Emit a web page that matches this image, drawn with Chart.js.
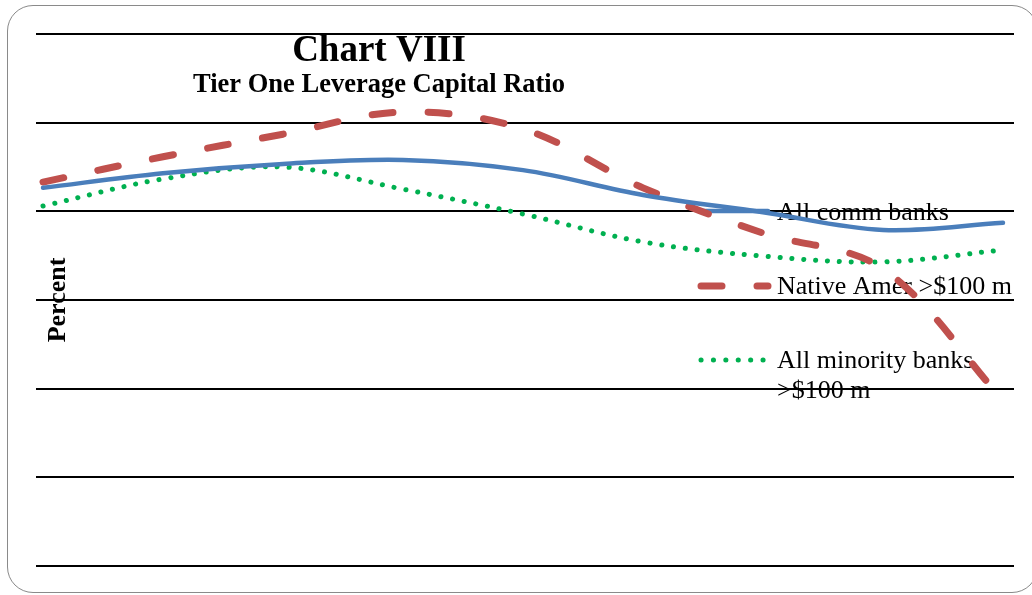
<!DOCTYPE html>
<html>
<head>
<meta charset="utf-8">
<script src="https://cdn.jsdelivr.net/npm/chart.js@4/dist/chart.umd.min.js"></script>
<style>
  html, body { margin: 0; padding: 0; background: #fff; }
  #wrap { position: relative; width: 1032px; height: 595px; overflow: hidden; }
  #frame {
    position: absolute; left: 7px; top: 5px; width: 1031px; height: 588px;
    border: 1.5px solid #8a8a8a; border-radius: 26px; box-sizing: border-box;
  }
  canvas { position: absolute; left: 0; top: 0; }
</style>
</head>
<body>
<div id="wrap">
  <div id="frame"></div>
  <canvas id="c" width="1032" height="595"></canvas>
</div>
<script>
// Reporting periods (evenly spaced along the horizontal axis)
const periods = [0, 1, 2, 3, 4, 5, 6, 7, 8];

// Tier one leverage capital ratio, percent
const allCommBanks    = [8.53, 8.86, 9.07, 9.16, 8.93, 8.37, 7.98, 7.58, 7.74];
const nativeAmer100m  = [8.66, 9.23, 9.74, 10.24, 9.86, 8.53, 7.51, 6.70, 3.74];
const allMinority100m = [8.12, 8.73, 9.00, 8.50, 7.94, 7.31, 6.99, 6.86, 7.13];

// Value axis grid
const yMin = 0, yMax = 12, yStep = 2;

const seriesNames = ['All comm banks', 'Native Amer >$100 m', ['All minority banks', '>$100 m']];
const chartTitle = 'Chart VIII';
const chartSubtitle = 'Tier One Leverage Capital Ratio';
const yTitle = 'Percent';

const BLUE = '#4a7ebb', RED = '#c0504d', GREEN = '#00b050';
const SERIF = '"Liberation Serif", "Times New Roman", serif';

const toPoints = vals => periods.map((p, i) => ({ x: p, y: vals[i] }));

// Headings, axis title and the key on the right
const annotations = {
  id: 'annotations',
  beforeDatasetsDraw(chart) {
    const ctx = chart.ctx;
    ctx.save();
    ctx.fillStyle = '#000';
    ctx.textAlign = 'center';
    ctx.textBaseline = 'alphabetic';
    ctx.font = 'bold 37px ' + SERIF;
    ctx.fillText(chartTitle, 379, 61);
    ctx.font = 'bold 26.5px ' + SERIF;
    ctx.fillText(chartSubtitle, 379, 92);

    ctx.save();
    ctx.translate(65, 300);
    ctx.rotate(-Math.PI / 2);
    ctx.font = 'bold 26px ' + SERIF;
    ctx.fillText(yTitle, 0, 0);
    ctx.restore();

    // key samples
    const keys = [
      { color: BLUE, width: 4.5, dash: [], y: 211 },
      { color: RED, width: 7, dash: [21, 35], y: 286 },
      { color: GREEN, width: 5, dash: [0.1, 12.3], y: 360 }
    ];
    ctx.lineCap = 'round';
    keys.forEach(k => {
      ctx.beginPath();
      ctx.strokeStyle = k.color;
      ctx.lineWidth = k.width;
      ctx.setLineDash(k.dash);
      ctx.moveTo(701, k.y);
      ctx.lineTo(768, k.y);
      ctx.stroke();
    });
    ctx.setLineDash([]);

    ctx.textAlign = 'left';
    ctx.font = '26px ' + SERIF;
    ctx.fillText(seriesNames[0], 777, 220);
    ctx.fillText(seriesNames[1], 777, 294);
    ctx.fillText(seriesNames[2][0], 777, 368);
    ctx.fillText(seriesNames[2][1], 777, 398);
    ctx.restore();
  }
};

new Chart(document.getElementById('c'), {
  type: 'line',
  data: {
    datasets: [
      {
        label: 'All comm banks',
        data: toPoints(allCommBanks),
        borderColor: BLUE, borderWidth: 4.5,
        borderCapStyle: 'round', borderJoinStyle: 'round',
        pointRadius: 0, tension: 0.35, fill: false
      },
      {
        label: 'Native Amer >$100 m',
        data: toPoints(nativeAmer100m),
        borderColor: RED, borderWidth: 7,
        borderDash: [21, 35], borderCapStyle: 'round', borderJoinStyle: 'round',
        pointRadius: 0, tension: 0.35, fill: false
      },
      {
        label: 'All minority banks >$100 m',
        data: toPoints(allMinority100m),
        borderColor: GREEN, borderWidth: 5,
        borderDash: [0.1, 11.8], borderCapStyle: 'round', borderJoinStyle: 'round',
        pointRadius: 0, tension: 0.35, fill: false
      }
    ]
  },
  options: {
    responsive: false,
    animation: false,
    events: [],
    layout: { padding: { left: 36, top: 34, right: 18, bottom: 29 } },
    plugins: {
      legend: { display: false },
      title: { display: false },
      tooltip: { enabled: false }
    },
    scales: {
      x: {
        type: 'linear',
        min: -0.0583, max: 8.0917,
        display: false
      },
      y: {
        min: yMin, max: yMax,
        ticks: { display: false, stepSize: yStep },
        grid: { color: '#000', lineWidth: 2, drawTicks: false },
        border: { display: false }
      }
    }
  },
  plugins: [annotations]
});
</script>
</body>
</html>
